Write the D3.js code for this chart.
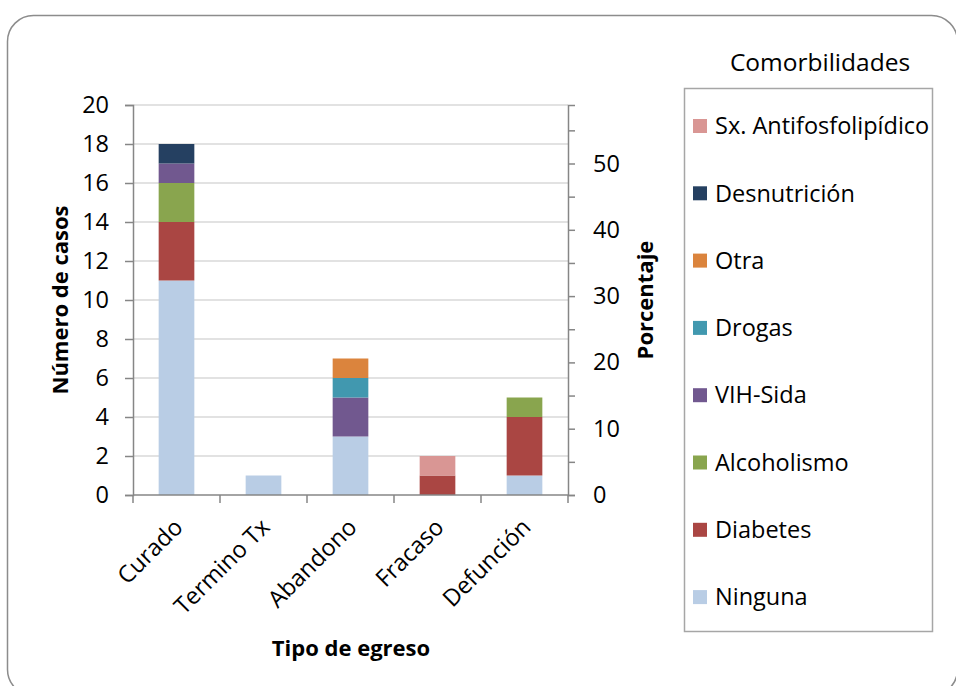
<!DOCTYPE html>
<html><head><meta charset="utf-8">
<script src="https://cdn.jsdelivr.net/npm/d3@7"></script>
<style>body{margin:0;background:#fff}svg{display:block}</style>
</head><body>
<svg id="c" width="956" height="686"></svg>
<script>
const categories = ["Curado","Termino Tx","Abandono","Fracaso","Defunción"];
const seriesNames = ["Ninguna","Diabetes","Alcoholismo","VIH-Sida","Drogas","Otra","Desnutrición","Sx. Antifosfolipídico"];
const Ninguna = [11,1,3,0,1];
const Diabetes = [3,0,0,1,3];
const Alcoholismo = [2,0,0,0,1];
const VIHSida = [1,0,2,0,0];
const Drogas = [0,0,1,0,0];
const Otra = [0,0,1,0,0];
const Desnutricion = [1,0,0,0,0];
const SxAntifosfolipidico = [0,0,0,1,0];
const colors = ["#B9CDE5","#AA4643","#89A54E","#71588F","#4198AF","#DB843D","#254061","#D99694"];
const leftTicks = [0,2,4,6,8,10,12,14,16,18,20];
const rightTicks = [0,5,10,15,20,25,30,35,40,45,50,55];
const rightLabels = [0,10,20,30,40,50];
const totalCases = 34;

const seriesVals = [Ninguna,Diabetes,Alcoholismo,VIHSida,Drogas,Otra,Desnutricion,SxAntifosfolipidico];
const rows = categories.map((c,i)=>{const o={cat:c}; seriesNames.forEach((s,j)=>o[s]=seriesVals[j][i]); return o;});
const stack = d3.stack().keys(seriesNames)(rows);

const svg = d3.select("#c");
const font = "'Open Sans', 'DejaVu Sans', sans-serif";
const FS = 23.5, FB = 22;
svg.append("rect").attr("x",7.5).attr("y",15.5).attr("width",950).attr("height",680).attr("rx",26)
  .attr("fill","#fff").attr("stroke","#8c8c8c").attr("stroke-width",1.5);

const L=133, R=568, T=105, B=495;
const x = d3.scaleBand().domain(categories).range([L,R]).paddingInner(0.59).paddingOuter(0.295);
const y = d3.scaleLinear().domain([0,20]).range([B,T]);
const y2 = d3.scaleLinear().domain([0,20/totalCases*100]).range([B,T]);

// gridlines
svg.append("g").selectAll("line").data(leftTicks.filter(d=>d>0)).join("line")
  .attr("x1",L).attr("x2",R).attr("y1",d=>y(d)).attr("y2",d=>y(d))
  .attr("stroke","#d9d9d9").attr("stroke-width",1.5);

// bars
svg.append("g").selectAll("g").data(stack).join("g").attr("fill",(d,i)=>colors[i])
  .selectAll("rect").data(d=>d.filter(p=>p[1]-p[0]>0)).join("rect")
  .attr("x",d=>x(d.data.cat)).attr("width",x.bandwidth())
  .attr("y",d=>y(d[1])).attr("height",d=>y(d[0])-y(d[1]));

// left axis
const ga = svg.append("g").attr("transform",`translate(${L},0)`)
  .call(d3.axisLeft(y).tickValues(leftTicks).tickSize(8).tickPadding(16));
ga.select(".domain").attr("stroke","#868686").attr("stroke-width",1.5);
ga.selectAll(".tick line").attr("stroke","#868686").attr("stroke-width",1.5);
ga.selectAll("text").attr("font-family",font).attr("font-size",FS).attr("fill","#000");

// right axis
const gr = svg.append("g").attr("transform",`translate(${R},0)`)
  .call(d3.axisRight(y2).tickValues(rightTicks).tickSize(7).tickPadding(18)
    .tickFormat(d=>rightLabels.includes(d)?d:""));
gr.select(".domain").attr("stroke","#868686").attr("stroke-width",1.5);
gr.selectAll(".tick line").attr("stroke","#868686").attr("stroke-width",1.5);
gr.selectAll("text").attr("font-family",font).attr("font-size",FS).attr("fill","#000");

// bottom axis
const gb = svg.append("g").attr("transform",`translate(0,${B})`);
gb.append("line").attr("x1",L).attr("x2",R).attr("stroke","#868686").attr("stroke-width",1.5);
const bounds = categories.map(c=>x(c)-x.step()*x.paddingInner()/2).concat([R]);
gb.selectAll("line.t").data(bounds).join("line").attr("class","t")
  .attr("x1",d=>d).attr("x2",d=>d).attr("y1",0).attr("y2",8).attr("stroke","#868686").attr("stroke-width",1.5);
gb.selectAll("text").data(categories).join("text")
  .attr("transform",d=>`translate(${x(d)+x.bandwidth()/2-4},${22}) rotate(-45)`)
  .attr("text-anchor","end").attr("dy","0.7em")
  .attr("font-family",font).attr("font-size",FS).attr("fill","#000").text(d=>d);

// titles
svg.append("text").attr("transform","translate(68,300) rotate(-90)").attr("text-anchor","middle")
  .attr("font-family",font).attr("font-weight","bold").attr("font-size",FB).text("Número de casos");
svg.append("text").attr("transform","translate(653,300) rotate(-90)").attr("text-anchor","middle")
  .attr("font-family",font).attr("font-weight","bold").attr("font-size",FB).text("Porcentaje");
svg.append("text").attr("x",351).attr("y",656).attr("text-anchor","middle")
  .attr("font-family",font).attr("font-weight","bold").attr("font-size",FB).text("Tipo de egreso");

// legend
svg.append("text").attr("x",820).attr("y",71).attr("text-anchor","middle")
  .attr("font-family",font).attr("font-size",24.5).text("Comorbilidades");
svg.append("rect").attr("x",684.5).attr("y",88.5).attr("width",248).attr("height",543)
  .attr("fill","none").attr("stroke","#a6a6a6").attr("stroke-width",1.5);
const order = seriesNames.map((s,i)=>i).reverse();
const lg = svg.append("g").selectAll("g").data(order).join("g")
  .attr("transform",(d,i)=>`translate(693,${126+i*67.3})`);
lg.append("rect").attr("x",0).attr("y",-7).attr("width",14).attr("height",14).attr("fill",d=>colors[d]);
lg.append("text").attr("x",22).attr("dy","0.35em").attr("font-family",font).attr("font-size",FS)
  .text(d=>seriesNames[d]);
</script>
</body></html>
